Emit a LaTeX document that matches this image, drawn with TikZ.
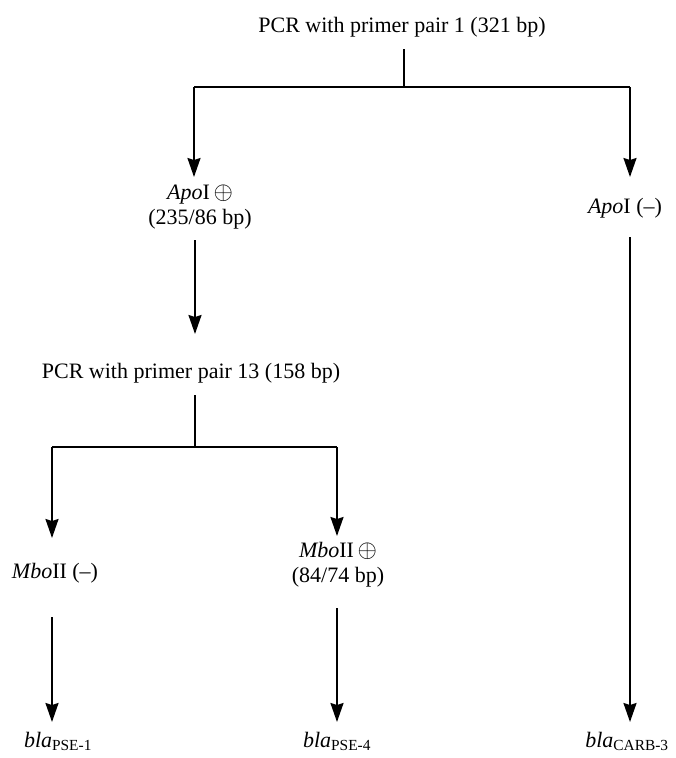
\documentclass[tikz,border=0pt]{standalone}
\usepackage{fontspec}
\setmainfont{Liberation Serif}
\usetikzlibrary{arrows.meta}
\newcommand{\plusmark}{\,\scalebox{1.2}{$\oplus$}}
\begin{document}
\begin{tikzpicture}[x=1pt,y=-1pt,
  lbl/.style={anchor=base,inner sep=0pt,align=center,font=\fontsize{22}{25}\selectfont},
  conn/.style={line width=2pt},
  arr/.style={conn,-{Stealth[length=19pt,width=13pt,inset=2pt]}}]
\useasboundingbox (0,0) rectangle (675,758);
% labels (base anchor = baseline of last line)
\node[lbl] (top) at (402,32) {PCR with primer pair 1 (321 bp)};
\node[lbl] (apoP) at (200,224) {\textit{Apo}I\plusmark\\(235/86 bp)};
\node[lbl] (apoM) at (625,213) {\textit{Apo}I (–)};
\node[lbl] (pcr) at (191,378) {PCR with primer pair 13 (158 bp)};
\node[lbl] (mboM) at (55,578) {\textit{Mbo}II (–)};
\node[lbl] (mboP) at (338,582) {\textit{Mbo}II\plusmark\\(84/74 bp)};
\node[lbl] (pse1) at (58,747) {\textit{bla}\textsubscript{PSE-1}};
\node[lbl] (pse4) at (337,747) {\textit{bla}\textsubscript{PSE-4}};
\node[lbl] (carb) at (627,747) {\textit{bla}\textsubscript{CARB-3}};
% junction coordinates
\coordinate (t0) at (404,49);
\coordinate (t1) at (404,87);
\coordinate (tl) at (194,87);
\coordinate (tr) at (630,87);
\coordinate (aP) at (194,177);
\coordinate (aM) at (630,177);
\coordinate (aPb) at (195,240);
\coordinate (pT) at (195,334);
\coordinate (aMb) at (630,237);
\coordinate (cT) at (630,722);
\coordinate (p0) at (195,395);
\coordinate (p1) at (195,447);
\coordinate (pl) at (52,447);
\coordinate (pr) at (337,447);
\coordinate (mM) at (52,538);
\coordinate (mP) at (337,536);
\coordinate (mMb) at (52,617);
\coordinate (mPb) at (337,608);
\coordinate (s1) at (52,722);
\coordinate (s4) at (337,722);
% connectors
\draw[conn] (t0) -- (t1);
\draw[conn] (tl) -- (tr);
\draw[arr] (tl) -- (aP);
\draw[arr] (tr) -- (aM);
\draw[arr] (aPb) -- (pT);
\draw[arr] (aMb) -- (cT);
\draw[conn] (p0) -- (p1);
\draw[conn] (pl) -- (pr);
\draw[arr] (pl) -- (mM);
\draw[arr] (pr) -- (mP);
\draw[arr] (mMb) -- (s1);
\draw[arr] (mPb) -- (s4);
\end{tikzpicture}
\end{document}
